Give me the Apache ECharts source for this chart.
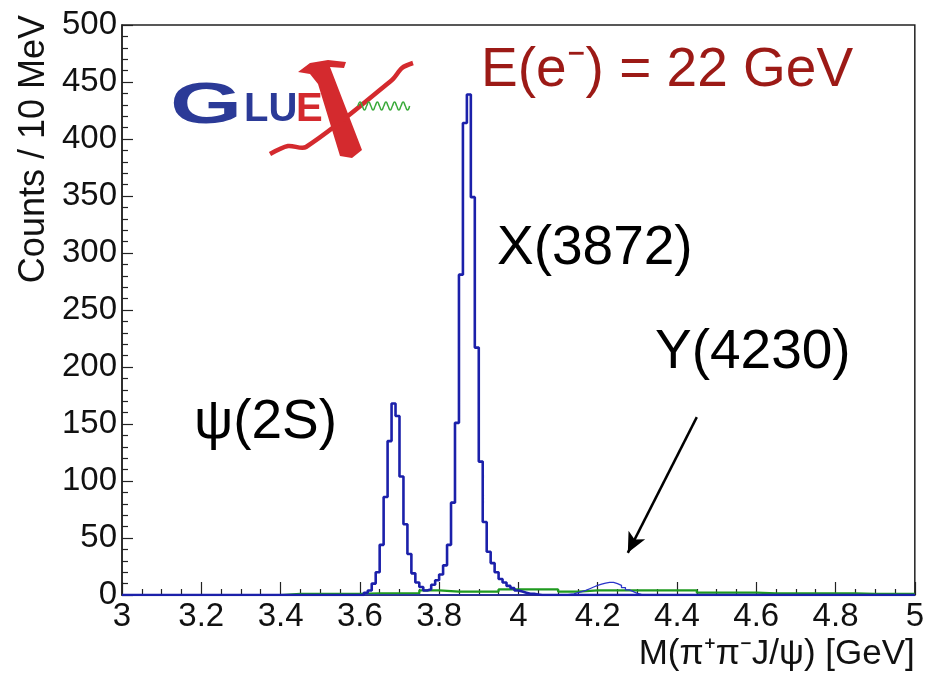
<!DOCTYPE html>
<html>
<head>
<meta charset="utf-8">
<title>M(π+π- J/ψ) spectrum</title>
<script src="https://cdn.jsdelivr.net/npm/echarts@6/dist/echarts.min.js"></script>
<style>
  html, body { margin: 0; padding: 0; background: #ffffff; }
  #chart { width: 927px; height: 677px; }
</style>
</head>
<body>
<div id="chart"></div>
<script>
// Histogram binning (GeV)
const xRange = [3.0, 5.0];
const binWidth = 0.01;       // 10 MeV bins
const bkgBinWidth = 0.05;    // background histogram bins

// psi(2S) + X(3872) signal, counts per 10 MeV, first bin at sigStart
const sigStart = 3.60;
const sigCounts = [
  0, 2, 4, 10, 20, 44, 86, 135, 168, 157,
  104, 62, 36, 19, 11, 7, 4, 5, 9, 13,
  18, 26, 44, 81, 151, 281, 414, 439, 349, 217,
  117, 64, 38, 28, 20, 14, 11, 8, 6, 4,
  3, 2, 1, 1, 0.5, 0
];

// Y(4230) signal, counts per 10 MeV, first bin at ySigStart
const ySigStart = 4.12;
const ySigCounts = [
  0.5, 1, 2, 3, 4, 5.5, 7, 8.5, 9.5, 10.5,
  11, 11, 10, 8.5, 6.5, 4.5, 3, 1.5, 0.5, 0
];

// Background, counts per 10 MeV in 50 MeV bins, first bin at bkgStart
const bkgStart = 3.40;
const bkgCounts = [
  1, 1, 1, 1, 1.5, 1.5, 1.5, 4, 3, 3,
  3, 5, 5, 5, 3, 4, 4, 4, 4, 4,
  4, 2, 2, 2, 1.5, 1.5, 1.5, 1.5, 1.5, 1,
  1, 1
];

// Axis ticks
const xTickLabels = ['3', '3.2', '3.4', '3.6', '3.8', '4', '4.2', '4.4', '4.6', '4.8', '5'];
const yTickLabels = ['0', '50', '100', '150', '200', '250', '300', '350', '400', '450', '500'];

// Arrow pointing at the Y(4230) bump: [mass, counts]
const arrowFrom = [4.45, 156];
const arrowTo = [4.276, 37];

// Turn a list of bin contents into step points (bin low edge, content),
// padded with empty bins so the histogram spans the full axis range.
function histPoints(start, width, counts) {
  const pts = [];
  const r = (v) => Math.round(v * 1000) / 1000;
  for (let e = xRange[0]; e < start - 1e-9; e += width) pts.push([r(e), 0]);
  counts.forEach((c, i) => pts.push([r(start + i * width), c]));
  let e = start + counts.length * width;
  for (; e < xRange[1] - 1e-9; e += width) pts.push([r(e), 0]);
  pts.push([xRange[1], pts[pts.length - 1][1]]);
  return pts;
}

const FONT = '"Liberation Sans", Arial, Helvetica, sans-serif';

const chart = echarts.init(document.getElementById('chart'), null, { renderer: 'canvas' });

// Wavy gluon line of the logo
function wavePoints(x0, x1, y, amp, period) {
  const pts = [];
  for (let x = x0; x <= x1 + 0.01; x += period / 4) {
    const k = Math.round((x - x0) / (period / 4)) % 4;
    pts.push([x, k === 1 ? y - amp : (k === 3 ? y + amp : y)]);
  }
  return pts;
}

const option = {
  animation: false,
  backgroundColor: '#ffffff',
  grid: {
    left: 122, right: 12, top: 25, bottom: 82,
    show: true, borderColor: '#222', borderWidth: 1.5, backgroundColor: 'transparent'
  },
  xAxis: {
    type: 'value',
    min: xRange[0], max: xRange[1], interval: 0.2,
    name: 'M(π\u207Aπ\u207BJ/ψ) [GeV]',
    nameLocation: 'end',
    nameGap: 0,
    nameTextStyle: {
      fontFamily: FONT, fontSize: 35, color: '#111',
      align: 'right', verticalAlign: 'top', padding: [42, 0, 0, 0]
    },
    axisLine: { show: true, onZero: false, lineStyle: { color: '#222', width: 1.5 } },
    axisTick: { show: true, inside: true, length: 13, lineStyle: { color: '#222', width: 1.2 } },
    minorTick: { show: true, splitNumber: 4, length: 6, lineStyle: { color: '#222', width: 1.2 } },
    splitLine: { show: false },
    axisLabel: {
      fontFamily: FONT, fontSize: 33, color: '#111', margin: 5,
      formatter: (v) => {
        const i = Math.round((v - xRange[0]) / 0.2);
        return xTickLabels[i] !== undefined ? xTickLabels[i] : '';
      }
    }
  },
  yAxis: {
    type: 'value',
    min: 0, max: 500, interval: 50,
    name: 'Counts / 10 MeV',
    nameLocation: 'end',
    nameRotate: 90,
    nameGap: 10,
    nameTextStyle: {
      fontFamily: FONT, fontSize: 36, color: '#111',
      align: 'right', verticalAlign: 'bottom', padding: [0, 0, 70, 0]
    },
    axisLine: { show: true, lineStyle: { color: '#222', width: 1.5 } },
    axisTick: { show: true, inside: true, length: 11, lineStyle: { color: '#222', width: 1.2 } },
    minorTick: { show: true, splitNumber: 5, length: 6, lineStyle: { color: '#222', width: 1.2 } },
    splitLine: { show: false },
    axisLabel: {
      fontFamily: FONT, fontSize: 33, color: '#111', margin: 5,
      formatter: (v) => yTickLabels[Math.round(v / 50)]
    }
  },
  series: [
    {
      name: 'background',
      type: 'line',
      step: 'end',
      symbol: 'none',
      data: histPoints(bkgStart, bkgBinWidth, bkgCounts),
      lineStyle: { color: '#1f9a1f', width: 2.2 },
      z: 3
    },
    {
      name: 'Y(4230)',
      type: 'line',
      step: 'end',
      symbol: 'none',
      data: histPoints(ySigStart, binWidth, ySigCounts),
      lineStyle: { color: '#2a34c8', width: 1.3 },
      z: 4
    },
    {
      name: 'signal',
      type: 'line',
      step: 'end',
      symbol: 'none',
      data: histPoints(sigStart, binWidth, sigCounts),
      lineStyle: { color: '#1b20aa', width: 2.6 },
      z: 5,
      markLine: {
        silent: true,
        symbol: ['none', 'arrow'],
        symbolSize: [14, 20],
        label: { show: false },
        lineStyle: { color: '#000', width: 2.5, type: 'solid' },
        data: [[{ coord: arrowFrom }, { coord: arrowTo }]]
      }
    }
  ],
  graphic: [
    {
      type: 'text', x: 481, y: 43, z: 10,
      style: { text: 'E(e\u207B) = 22 GeV', fill: '#9c1a16', font: '55px ' + FONT }
    },
    {
      type: 'text', x: 497, y: 221, z: 10,
      style: { text: 'X(3872)', fill: '#000', font: '55px ' + FONT }
    },
    {
      type: 'text', x: 655, y: 325, z: 10,
      style: { text: 'Y(4230)', fill: '#000', font: '55px ' + FONT }
    },
    {
      type: 'text', x: 194, y: 395, z: 10,
      style: { text: 'ψ(2S)', fill: '#000', font: '55px ' + FONT }
    },
    // GlueX logo
    {
      type: 'text', x: 170, y: 78, scaleX: 1.6, z: 10,
      style: { text: 'G', fill: '#2b3a97', font: 'bold 58px ' + FONT }
    },
    {
      type: 'text', x: 244, y: 90, z: 10,
      style: { text: 'LU', fill: '#2b3a97', font: 'bold 40px ' + FONT }
    },
    {
      type: 'text', x: 296, y: 90, z: 10,
      style: { text: 'E', fill: '#d42a2e', font: 'bold 40px ' + FONT }
    },
    {
      // thick stroke of the X
      type: 'polygon', z: 11,
      shape: { points: [[298, 72], [310, 63], [328, 60], [346, 62], [344, 68], [330, 67], [362, 150], [352, 158], [340, 156], [318, 84], [310, 74]] },
      style: { fill: '#d42a2e' }
    },
    {
      // thin stroke of the X
      type: 'polyline', z: 11,
      shape: { points: [[270, 154], [288, 146], [306, 147], [392, 80], [402, 68], [413, 63]], smooth: 0.3 },
      style: { fill: 'none', stroke: '#d42a2e', lineWidth: 4.5 }
    },
    {
      type: 'polyline', z: 11,
      shape: { points: wavePoints(358, 410, 106, 4, 8.6), smooth: 0.6 },
      style: { fill: 'none', stroke: '#3aaa3a', lineWidth: 1.5 }
    }
  ]
};

chart.setOption(option);
</script>
</body>
</html>
